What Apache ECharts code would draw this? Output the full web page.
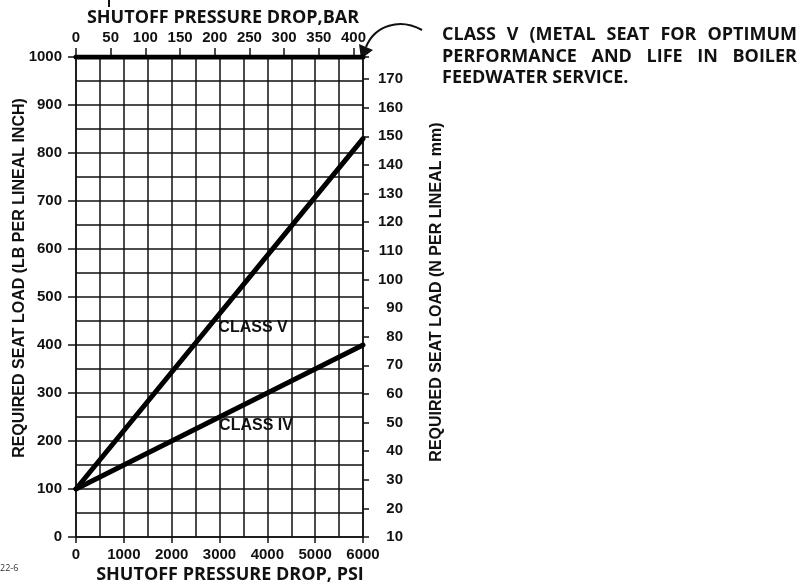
<!DOCTYPE html>
<html>
<head>
<meta charset="utf-8">
<script src="https://cdn.jsdelivr.net/npm/echarts@6/dist/echarts.min.js"></script>
<style>
  html, body { margin: 0; padding: 0; background: #fff; }
  #chart { width: 801px; height: 588px; }
</style>
</head>
<body>
<div id="chart"></div>
<script>
// data
const psi = [0, 6000]
const classV = [100, 830]
const classIV = [100, 400]
const classVMetal = [1000, 1000]
const barMax = 413.7 // 6000 psi in bar
const nPerMmMin = 10
const nPerMmMax = 177.7

const pairs = (xs, ys) => xs.map((x, i) => [x, ys[i]])

const chart = echarts.init(document.getElementById('chart'))

const tickFont = { fontFamily: 'Liberation Sans', fontWeight: 'bold', fontSize: 15, color: '#111' }
const titleFont = 'Open Sans'
const lineCol = '#111'

// annotation, justified between 442 and 797 like the original
const noteFont = 'bold 18px "' + titleFont + '"'
const noteLines = [
  { text: 'CLASS V (METAL SEAT FOR OPTIMUM', y: 35, justify: true },
  { text: 'PERFORMANCE AND LIFE IN BOILER', y: 57, justify: true },
  { text: 'FEEDWATER SERVICE.', y: 78, justify: false }
]

const ctx = document.createElement('canvas').getContext('2d')
ctx.font = noteFont

const graphics = [
  {
    type: 'text', x: 20, y: 278, rotation: Math.PI / 2,
    style: { text: 'REQUIRED SEAT LOAD (LB PER LINEAL INCH)', font: 'bold 16px "Liberation Sans"', fill: '#111', textAlign: 'center', textVerticalAlign: 'middle' }
  },
  {
    type: 'text', x: 437, y: 292, rotation: Math.PI / 2,
    style: { text: 'REQUIRED SEAT LOAD (N PER LINEAL mm)', font: 'bold 16px "Liberation Sans"', fill: '#111', textAlign: 'center', textVerticalAlign: 'middle' }
  },
  {
    type: 'text', x: 223, y: 18,
    style: { text: 'SHUTOFF PRESSURE DROP,BAR', font: 'bold 18px "' + titleFont + '"', fill: '#111', textAlign: 'center', textVerticalAlign: 'middle' }
  },
  {
    type: 'text', x: 230, y: 575,
    style: { text: 'SHUTOFF PRESSURE DROP, PSI', font: 'bold 18px "' + titleFont + '"', fill: '#111', textAlign: 'center', textVerticalAlign: 'middle' }
  },
  {
    type: 'text', x: 0, y: 568,
    style: { text: '22-6', font: '9px "' + titleFont + '"', fill: '#333', textVerticalAlign: 'middle' }
  },
  {
    type: 'text', x: 253, y: 328,
    style: { text: 'CLASS V', font: 'bold 16px "Liberation Sans"', fill: '#111', textAlign: 'center', textVerticalAlign: 'middle' }
  },
  {
    type: 'text', x: 256, y: 426,
    style: { text: 'CLASS IV', font: 'bold 16px "Liberation Sans"', fill: '#111', textAlign: 'center', textVerticalAlign: 'middle' }
  },
  // small stray mark above the bar title
  { type: 'line', shape: { x1: 109, y1: 0, x2: 109, y2: 7 }, style: { stroke: '#111', lineWidth: 2 } },
  // curved pointer to the metal-seat line
  {
    type: 'bezierCurve',
    shape: { x1: 422, y1: 30, cpx1: 400, cpy1: 18, cpx2: 375, cpy2: 25, x2: 366, y2: 47 },
    style: { stroke: '#111', lineWidth: 2, fill: null }
  },
  { type: 'polygon', shape: { points: [[361, 59], [359, 44], [373, 50]] }, style: { fill: '#111' } }
]

noteLines.forEach(line => {
  if (!line.justify) {
    graphics.push({ type: 'text', x: 442, y: line.y, style: { text: line.text, font: noteFont, fill: '#111', textVerticalAlign: 'middle' } })
    return
  }
  const words = line.text.split(' ')
  const widths = words.map(w => ctx.measureText(w).width)
  const gap = (797 - 442 - widths.reduce((a, b) => a + b, 0)) / (words.length - 1)
  let x = 442
  words.forEach((w, i) => {
    graphics.push({ type: 'text', x, y: line.y, style: { text: w, font: noteFont, fill: '#111', textVerticalAlign: 'middle' } })
    x += widths[i] + gap
  })
})

chart.setOption({
  animation: false,
  backgroundColor: '#fff',
  grid: { left: 76, right: 438, top: 57, bottom: 51, containLabel: false },
  xAxis: [
    {
      type: 'value', position: 'bottom', min: 0, max: 6000, interval: 1000,
      axisLine: { show: true, onZero: false, lineStyle: { color: lineCol, width: 1.5 } },
      axisTick: { show: true, length: 6, lineStyle: { color: lineCol, width: 1.5 } },
      axisLabel: { ...tickFont, margin: 10, formatter: v => String(v) },
      splitLine: { show: true, lineStyle: { color: lineCol, width: 1.5 } },
      minorTick: { show: false, splitNumber: 2 },
      minorSplitLine: { show: true, lineStyle: { color: lineCol, width: 1.5 } }
    },
    {
      type: 'value', position: 'top', min: 0, max: barMax, interval: 50,
      axisLine: { show: true, onZero: false, lineStyle: { color: lineCol, width: 1.5 } },
      axisTick: { show: true, length: 9, lineStyle: { color: lineCol, width: 1.5 } },
      axisLabel: {
        ...tickFont, margin: 12,
        formatter: v => (v % 50 === 0 ? String(v) : '')
      },
      splitLine: { show: false }
    }
  ],
  yAxis: [
    {
      type: 'value', position: 'left', min: 0, max: 1000, interval: 100,
      axisLine: { show: true, onZero: false, lineStyle: { color: lineCol, width: 1.5 } },
      axisTick: { show: true, length: 8, lineStyle: { color: lineCol, width: 1.5 } },
      axisLabel: { ...tickFont, margin: 14, formatter: v => String(v) },
      splitLine: { show: true, lineStyle: { color: lineCol, width: 1.5 } },
      minorTick: { show: false, splitNumber: 2 },
      minorSplitLine: { show: true, lineStyle: { color: lineCol, width: 1.5 } }
    },
    {
      type: 'value', position: 'right', min: nPerMmMin, max: nPerMmMax, interval: 10,
      axisLine: { show: true, onZero: false, lineStyle: { color: lineCol, width: 1.5 } },
      axisTick: { show: true, length: 6, lineStyle: { color: lineCol, width: 1.5 } },
      axisLabel: {
        ...tickFont, margin: 40, align: 'right',
        formatter: v => (v % 10 === 0 ? String(v) : '')
      },
      splitLine: { show: false }
    }
  ],
  series: [
    {
      name: 'CLASS V (METAL SEAT)', type: 'line', data: pairs(psi, classVMetal),
      symbol: 'none', lineStyle: { color: '#000', width: 5, cap: 'round' }, z: 5
    },
    {
      name: 'CLASS V', type: 'line', data: pairs(psi, classV),
      symbol: 'none', lineStyle: { color: '#000', width: 5, cap: 'round' }, z: 5
    },
    {
      name: 'CLASS IV', type: 'line', data: pairs(psi, classIV),
      symbol: 'none', lineStyle: { color: '#000', width: 5, cap: 'round' }, z: 5
    }
  ],
  graphic: graphics
})
</script>
</body>
</html>
